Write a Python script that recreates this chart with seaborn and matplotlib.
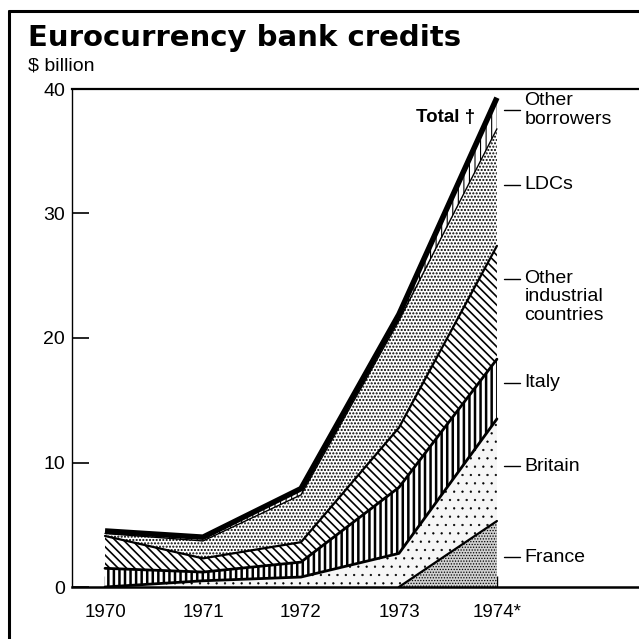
import numpy as np
import pandas as pd
import matplotlib
matplotlib.use("Agg")
import matplotlib.pyplot as plt
import seaborn as sns
from matplotlib.lines import Line2D

# ---------------- data ----------------
years = [1970, 1971, 1972, 1973, 1974]
year_labels = ["1970", "1971", "1972", "1973", "1974*"]
france = [0.0, 0.0, 0.0, 0.0, 5.3]
britain = [0.0, 0.5, 0.8, 2.7, 8.2]
italy = [1.5, 0.7, 1.2, 5.3, 4.8]
other_industrial = [2.6, 1.1, 1.6, 4.8, 9.1]
ldcs = [0.2, 1.4, 3.8, 8.6, 9.4]
other_borrowers = [0.2, 0.3, 0.5, 0.5, 2.5]
series_names = ["France", "Britain", "Italy", "Other\nindustrial\ncountries",
                "LDCs", "Other\nborrowers"]
y_ticks = [0, 10, 20, 30, 40]

# ---------------- layout / style ----------------
label_y = [2.4, 9.7, 16.4, 24.7, 32.3, 38.3]
hatches = ["......", "..", "|||", "\\\\\\\\", ".....", "|||"]
faces = ["#d0d0d0", "#f6f6f6", "white", "white", "white", "white"]
hatch_lw = [0.6, 0.4, 1.8, 1.2, 1.0, 0.8]
edge_lw = [1.6, 2.0, 2.0, 1.6, 1.0, 1.0]

sns.set_style("white")
plt.rcParams["font.family"] = ["Liberation Sans", "DejaVu Sans"]
plt.rcParams["text.color"] = "black"
plt.rcParams["xtick.color"] = "black"
plt.rcParams["ytick.color"] = "black"
plt.rcParams["xtick.labelcolor"] = "black"
plt.rcParams["ytick.labelcolor"] = "black"

fig = plt.figure(figsize=(6.39, 6.39), dpi=100)
W = 639.0
ax = fig.add_axes([72 / W, 1 - 587 / W, 1 - 72 / W, (587 - 89) / W])

stack = np.array([france, britain, italy, other_industrial, ldcs, other_borrowers])
cum = np.cumsum(stack, axis=0)
lower = np.vstack([np.zeros(len(years)), cum[:-1]])

df = pd.DataFrame({"year": years})
for i, name in enumerate(series_names):
    df["top%d" % i] = cum[i]

for i in range(len(series_names)):
    with plt.rc_context({"hatch.linewidth": hatch_lw[i], "hatch.color": "black"}):
        coll = ax.fill_between(years, lower[i], cum[i], facecolor=faces[i],
                               edgecolor="black", hatch=hatches[i], linewidth=0,
                               zorder=1)
        if hasattr(coll, "set_hatch_linewidth"):
            coll.set_hatch_linewidth(hatch_lw[i])

# boundary lines
for i in range(len(series_names) - 1):
    sub = df[df["year"] >= 1973] if i == 0 else df
    sns.lineplot(data=sub, x="year", y="top%d" % i, ax=ax, color="black",
                 lw=edge_lw[i], zorder=3, legend=False)
# total line
sns.lineplot(data=df, x="year", y="top%d" % (len(series_names) - 1), ax=ax,
             color="black", lw=4.0, zorder=4, legend=False,
             solid_capstyle="butt")

# right-hand labels
for name, yv in zip(series_names, label_y):
    ax.plot([1974.07, 1974.24], [yv, yv], color="black", lw=1.0)
    n = name.count("\n")
    va = "top" if n == 2 else "center"
    yy = yv + 0.8 if n == 2 else yv
    ax.text(1974.28, yy, name, fontsize=14, va=va, ha="left",
            linespacing=1.12, color="black")
ax.text(1973.78, 37.7, "Total \u2020", fontsize=13.5, fontweight="bold",
        ha="right", va="center", color="black")

ax.set_xlim(1969.663, 1975.45)
ax.set_ylim(0, 40)
ax.set_xticks(years)
ax.set_xticklabels(year_labels)
ax.set_yticks(y_ticks)
ax.set_xlabel("")
ax.set_ylabel("")
ax.tick_params(axis="y", direction="in", length=12, width=1.2, pad=5,
               labelsize=14, left=True, colors="black")
ax.tick_params(axis="x", direction="in", length=8, width=1.0, pad=12,
               labelsize=13.5, bottom=True, colors="black")
ax.spines["right"].set_visible(False)
ax.spines["left"].set_linewidth(1.0)
ax.spines["top"].set_linewidth(1.6)
ax.spines["bottom"].set_linewidth(1.8)
for s in ["left", "top", "bottom"]:
    ax.spines[s].set_color("black")
ax.set_facecolor("white")

# frame (top and left only visible)
fig.add_artist(Line2D([9 / W, 1.0], [1 - 11 / W, 1 - 11 / W], color="black", lw=2.2))
fig.add_artist(Line2D([9 / W, 9 / W], [0, 1 - 11 / W], color="black", lw=2.2))

fig.text(28 / W, 1 - 38 / W, "Eurocurrency bank credits", fontsize=21,
         fontweight="bold", family=["DejaVu Sans"], va="center", color="black")
fig.text(28 / W, 1 - 66 / W, "$ billion", fontsize=14, va="center", color="black")

fig.savefig("out.png", dpi=100)
